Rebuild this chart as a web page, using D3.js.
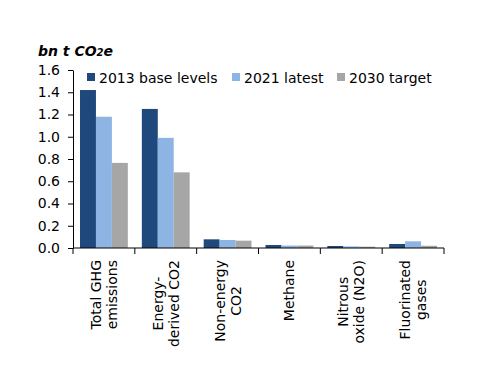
<!DOCTYPE html>
<html>
<head>
<meta charset="utf-8">
<script src="https://cdn.jsdelivr.net/npm/d3@7"></script>
<style>
    body { margin: 0; background: #ffffff; }
    #chart-container { width: 500px; height: 386px; }
    text { font-family: "DejaVu Sans", Verdana, sans-serif; fill: #000000; }
</style>
</head>
<body>
<div id="chart-container"></div>
<script>
// chart data
var categories = [
    ["Total GHG", "emissions"],
    ["Energy-", "derived CO2"],
    ["Non-energy", "CO2"],
    ["Methane"],
    ["Nitrous", "oxide (N2O)"],
    ["Fluorinated", "gases"]
];
var seriesNames = ["2013 base levels", "2021 latest", "2030 target"];
var base2013 = [1.42, 1.25, 0.078, 0.027, 0.018, 0.036];
var latest2021 = [1.18, 0.99, 0.072, 0.022, 0.014, 0.06];
var target2030 = [0.765, 0.68, 0.066, 0.022, 0.012, 0.02];
var yTicks = [0, 0.2, 0.4, 0.6, 0.8, 1.0, 1.2, 1.4, 1.6];
var colors = ["#1f497d", "#8db4e2", "#a6a6a6"];

function create_chart() {
    // Step 0: svg
    var svg = d3.select("#chart-container")
        .append("svg")
        .attr("width", 500)
        .attr("height", 386);

    var margin = { top: 70, left: 73, right: 56, bottom: 138 };
    var width = 500 - margin.left - margin.right,
        height = 386 - margin.top - margin.bottom;

    var catKeys = categories.map(d => d.join(" "));
    var series = [base2013, latest2021, target2030];

    // Step 1: scales
    var x0 = d3.scaleBand()
        .domain(catKeys)
        .range([0, width])
        .paddingInner(0)
        .paddingOuter(0);
    var x1 = d3.scaleBand()
        .domain(seriesNames)
        .range([0, x0.bandwidth()])
        .paddingInner(0)
        .paddingOuter(0.44);
    var y = d3.scaleLinear()
        .domain([0, 1.6])
        .range([height, 0]);

    var g = svg.append("g")
        .attr("transform", `translate(${margin.left},${margin.top})`);

    // Step 2: bars
    var groups = g.selectAll(".grp")
        .data(catKeys)
        .enter()
        .append("g")
        .attr("class", "grp")
        .attr("transform", d => `translate(${x0(d)},0)`);

    groups.selectAll("rect")
        .data((d, i) => seriesNames.map((s, j) => ({ s: s, v: series[j][i], c: colors[j] })))
        .enter()
        .append("rect")
        .attr("x", d => x1(d.s))
        .attr("y", d => y(d.v))
        .attr("width", x1.bandwidth())
        .attr("height", d => height - y(d.v))
        .attr("fill", d => d.c);

    // Step 3: y axis
    var yAxis = d3.axisLeft(y)
        .tickValues(yTicks)
        .tickFormat(d3.format(".1f"))
        .tickSize(5)
        .tickSizeOuter(0)
        .tickPadding(8);
    var yg = g.append("g").call(yAxis);
    yg.select(".domain").attr("stroke", "#000");
    yg.selectAll(".tick line").attr("stroke", "#000");
    yg.selectAll(".tick text")
        .style("font-family", "DejaVu Sans")
        .style("font-size", "14px")
        .attr("fill", "#000");

    // Step 4: x axis line with ticks at category boundaries
    var xg = g.append("g").attr("transform", `translate(0,${height})`);
    xg.append("line")
        .attr("x1", 0)
        .attr("x2", width)
        .attr("stroke", "#000");
    var bounds = catKeys.map(d => x0(d)).concat([x0.range()[1]]);
    xg.selectAll(".xt")
        .data(bounds)
        .enter()
        .append("line")
        .attr("x1", d => d)
        .attr("x2", d => d)
        .attr("y1", 0)
        .attr("y2", 6)
        .attr("stroke", "#000");

    // Step 5: rotated category labels, lines centred on each other
    var lineGap = 16, capH = 10;
    categories.forEach(function(lines, i) {
        var cx = x0(catKeys[i]) + x0.bandwidth() / 2;
        var lab = xg.append("g");
        var txt = lab.append("text")
            .attr("text-anchor", "middle")
            .style("font-size", "14px");
        lines.forEach(function(line, k) {
            txt.append("tspan")
                .attr("x", 0)
                .attr("y", (k - (lines.length - 1) / 2) * lineGap + capH / 2)
                .text(line);
        });
        var maxLen = d3.max(txt.selectAll("tspan").nodes(), n => n.getComputedTextLength());
        lab.attr("transform", `translate(${cx},${12 + maxLen / 2}) rotate(-90)`);
    });

    // Step 6: legend
    var legendX = [87, 232, 337];
    var leg = svg.append("g").attr("transform", "translate(0,73)");
    seriesNames.forEach(function(s, j) {
        leg.append("rect")
            .attr("x", legendX[j])
            .attr("y", 0)
            .attr("width", 8)
            .attr("height", 8)
            .attr("fill", colors[j]);
        leg.append("text")
            .attr("x", legendX[j] + 12)
            .attr("y", 10)
            .style("font-size", "14px")
            .text(s);
    });

    // Step 7: unit title
    var title = svg.append("text")
        .attr("x", 38)
        .attr("y", 56)
        .style("font-size", "14px")
        .style("font-weight", "bold")
        .style("font-style", "italic");
    title.append("tspan").text("bn t CO");
    title.append("tspan").style("font-size", "10px").text("2");
    title.append("tspan").text("e");
}

create_chart();
</script>
</body>
</html>
